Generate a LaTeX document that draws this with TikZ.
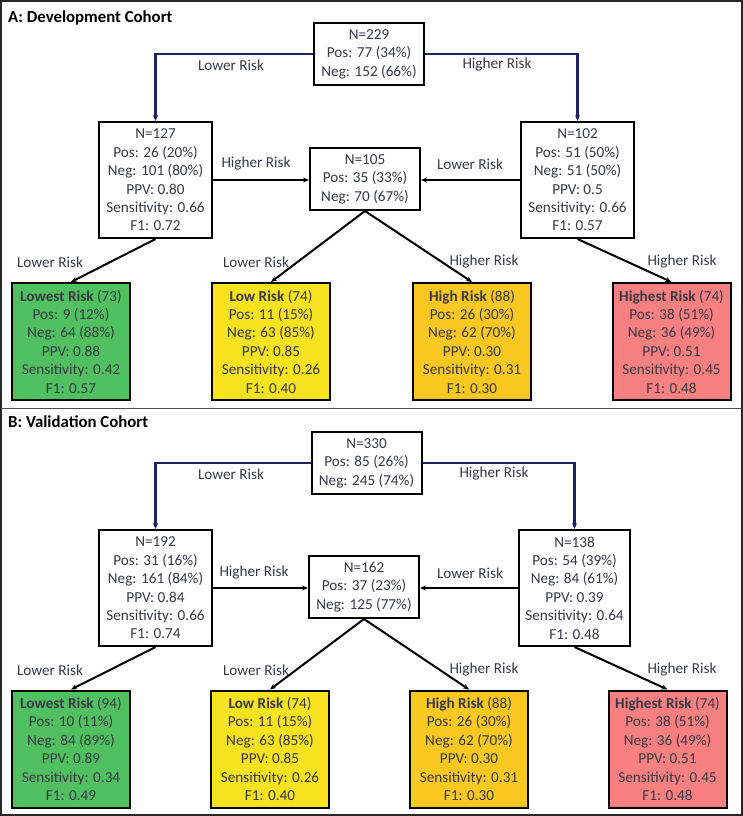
\documentclass[tikz,border=0pt]{standalone}
\usepackage{fontspec}
\setmainfont{Carlito}
\usetikzlibrary{arrows.meta}
\definecolor{cgreen}{RGB}{80,192,96}
\definecolor{cyellow}{RGB}{246,226,30}
\definecolor{cgold}{RGB}{250,200,32}
\definecolor{csalmon}{RGB}{248,128,128}
\definecolor{cnavy}{RGB}{28,34,100}
\definecolor{ctext}{RGB}{55,57,68}
\begin{document}
\begin{tikzpicture}[x=1pt,y=-1pt,
  every node/.style={font=\fontsize{15.2}{18.4}\selectfont, text=ctext},
  box/.style={draw=black, line width=2pt, align=center, inner sep=0pt, fill=white},
  smallbox/.style={box, minimum width=110pt, minimum height=62pt},
  bigbox/.style={box, minimum width=113pt, minimum height=116pt},
  leafbox/.style={box, minimum width=118pt, minimum height=117pt},
  lbl/.style={inner sep=0pt},
  title/.style={font=\fontsize{16.8}{20}\selectfont\bfseries, text=black, anchor=west, inner sep=0pt},
  bluearrow/.style={draw=cnavy, line width=2.4pt, -{Stealth[length=6pt,width=5pt]}},
  blkarrow/.style={draw=black, line width=2pt, -{Stealth[length=6pt,width=5pt]}}
]
\useasboundingbox (0,0) rectangle (743,816);
\draw[line width=1.4pt, black!85] (1,1) rectangle (742,815);
\draw[line width=1.4pt, black!70] (1,408.5) -- (742,408.5);

% ---------------- Panel A ----------------
\node[title] (tA) at (8,18) {A: Development Cohort};
\node[smallbox] (rootA) at (369,54) {N=229\\Pos: 77 (34\%)\\Neg: 152 (66\%)};
\node[bigbox] (n127) at (155.5,180) {N=127\\Pos: 26 (20\%)\\Neg: 101 (80\%)\\PPV: 0.80\\Sensitivity: 0.66\\F1: 0.72};
\node[smallbox] (n105) at (365,179) {N=105\\Pos: 35 (33\%)\\Neg: 70 (67\%)};
\node[bigbox] (n102) at (577.5,180) {N=102\\Pos: 51 (50\%)\\Neg: 51 (50\%)\\PPV: 0.5\\Sensitivity: 0.66\\F1: 0.57};
\node[leafbox, fill=cgreen] (lowestA) at (71,341.5) {\textbf{Lowest Risk} (73)\\Pos: 9 (12\%)\\Neg: 64 (88\%)\\PPV: 0.88\\Sensitivity: 0.42\\F1: 0.57};
\node[leafbox, fill=cyellow] (lowA) at (271,341.5) {\textbf{Low Risk} (74)\\Pos: 11 (15\%)\\Neg: 63 (85\%)\\PPV: 0.85\\Sensitivity: 0.26\\F1: 0.40};
\node[leafbox, fill=cgold] (highA) at (472,341.5) {\textbf{High Risk} (88)\\Pos: 26 (30\%)\\Neg: 62 (70\%)\\PPV: 0.30\\Sensitivity: 0.31\\F1: 0.30};
\node[leafbox, fill=csalmon] (highestA) at (671.5,341.5) {\textbf{Highest Risk} (74)\\Pos: 38 (51\%)\\Neg: 36 (49\%)\\PPV: 0.51\\Sensitivity: 0.45\\F1: 0.48};

\draw[bluearrow] (rootA.west) -| (n127.north);
\draw[bluearrow] (rootA.east) -| (n102.north);
\draw[blkarrow] (n127.east) -- (n127.east -| n105.west);
\draw[blkarrow] (n102.west) -- (n102.west -| n105.east);
\draw[blkarrow] (n127.south) -- (lowestA.north);
\draw[blkarrow] (n105.south) -- (lowA.north);
\draw[blkarrow] (n105.south) -- (highA.north);
\draw[blkarrow] (n102.south) -- (highestA.north);

\node[lbl] (la1) at (231,65) {Lower Risk};
\node[lbl] (la2) at (497,65) {Higher Risk};
\node[lbl] (la3) at (256,164) {Higher Risk};
\node[lbl] (la4) at (470,164) {Lower Risk};
\node[lbl] (la5) at (50,262) {Lower Risk};
\node[lbl] (la6) at (256,262) {Lower Risk};
\node[lbl] (la7) at (484,262) {Higher Risk};
\node[lbl] (la8) at (682,262) {Higher Risk};

% ---------------- Panel B ----------------
\node[title] (tB) at (8,422) {B: Validation Cohort};
\node[smallbox] (rootB) at (366.5,463) {N=330\\Pos: 85 (26\%)\\Neg: 245 (74\%)};
\node[bigbox] (n192) at (155.5,588) {N=192\\Pos: 31 (16\%)\\Neg: 161 (84\%)\\PPV: 0.84\\Sensitivity: 0.66\\F1: 0.74};
\node[smallbox] (n162) at (364,587) {N=162\\Pos: 37 (23\%)\\Neg: 125 (77\%)};
\node[bigbox, minimum width=111pt] (n138) at (574.5,588) {N=138\\Pos: 54 (39\%)\\Neg: 84 (61\%)\\PPV: 0.39\\Sensitivity: 0.64\\F1: 0.48};
\node[leafbox, fill=cgreen] (lowestB) at (71,749) {\textbf{Lowest Risk} (94)\\Pos: 10 (11\%)\\Neg: 84 (89\%)\\PPV: 0.89\\Sensitivity: 0.34\\F1: 0.49};
\node[leafbox, fill=cyellow] (lowB) at (270,749) {\textbf{Low Risk} (74)\\Pos: 11 (15\%)\\Neg: 63 (85\%)\\PPV: 0.85\\Sensitivity: 0.26\\F1: 0.40};
\node[leafbox, fill=cgold] (highB) at (469,749) {\textbf{High Risk} (88)\\Pos: 26 (30\%)\\Neg: 62 (70\%)\\PPV: 0.30\\Sensitivity: 0.31\\F1: 0.30};
\node[leafbox, fill=csalmon] (highestB) at (667.5,749) {\textbf{Highest Risk} (74)\\Pos: 38 (51\%)\\Neg: 36 (49\%)\\PPV: 0.51\\Sensitivity: 0.45\\F1: 0.48};

\draw[bluearrow] (rootB.west) -| (n192.north);
\draw[bluearrow] (rootB.east) -| (n138.north);
\draw[blkarrow] (n192.east) -- (n192.east -| n162.west);
\draw[blkarrow] (n138.west) -- (n138.west -| n162.east);
\draw[blkarrow] (n192.south) -- (lowestB.north);
\draw[blkarrow] (n162.south) -- (lowB.north);
\draw[blkarrow] (n162.south) -- (highB.north);
\draw[blkarrow] (n138.south) -- (highestB.north);

\node[lbl] (lb1) at (231,474) {Lower Risk};
\node[lbl] (lb2) at (494,474) {Higher Risk};
\node[lbl] (lb3) at (254,573) {Higher Risk};
\node[lbl] (lb4) at (470,573) {Lower Risk};
\node[lbl] (lb5) at (50,670) {Lower Risk};
\node[lbl] (lb6) at (256,670) {Lower Risk};
\node[lbl] (lb7) at (484,670) {Higher Risk};
\node[lbl] (lb8) at (682,670) {Higher Risk};
\end{tikzpicture}
\end{document}
